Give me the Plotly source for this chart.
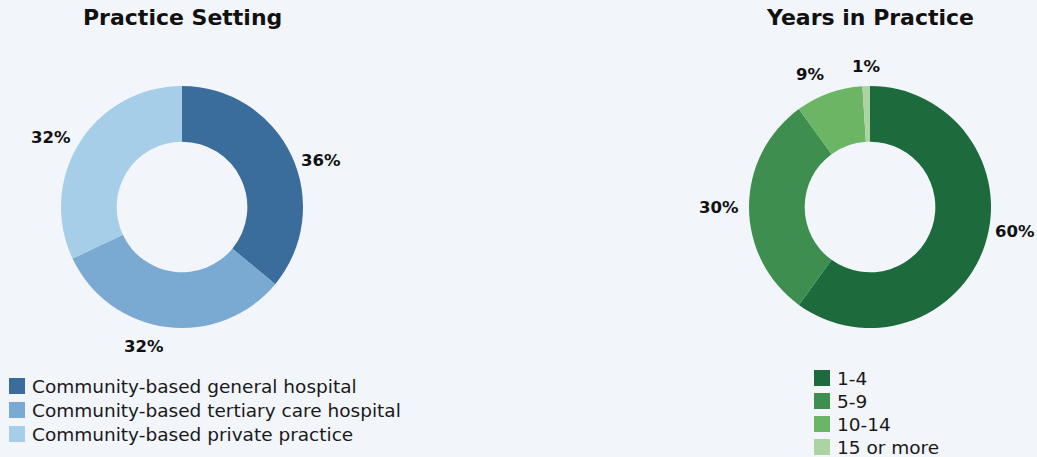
import math
import plotly.graph_objects as go

# Practice setting breakdown (percent of respondents)
setting_labels = [
    "Community-based general hospital",
    "Community-based tertiary care hospital",
    "Community-based private practice",
]
setting_values = [36, 32, 32]
setting_colors = ["#3a6d9b", "#7aa9d1", "#a6cee8"]

# Years in practice breakdown (percent of respondents)
years_labels = ["1-4", "5-9", "10-14", "15 or more"]
years_values = [60, 30, 9, 1]
years_colors = ["#1d6a3c", "#3d8e4f", "#6cb565", "#acd4a1"]

W, H = 1037, 457
BG = "#f2f5f9"
FONT = "DejaVu Sans"
RADIUS = 121
HOLE = 0.54
LABEL_GAP = 8


def px_x(v):
    return v / W


def px_y(v):
    return 1 - v / H


annotations = []
shapes = []


def donut(labels, values, colors, cx, cy, r):
    return go.Pie(
        labels=labels,
        values=values,
        marker=dict(colors=colors, line=dict(width=0)),
        hole=HOLE,
        sort=False,
        direction="clockwise",
        rotation=0,
        textinfo="none",
        showlegend=False,
        domain=dict(x=[px_x(cx - r), px_x(cx + r)], y=[px_y(cy + r), px_y(cy - r)]),
    )


def percent_labels(values, cx, cy, r):
    # Percentages sit just outside each slice at its mid-angle; labels on the
    # sides are drawn in toward the horizontal centre line.
    total = sum(values)
    start = 0.0
    for v in values:
        mid = (start + v / 2) / total * 2 * math.pi
        start += v
        ux, uy = math.sin(mid), -math.cos(mid)
        rl = r + LABEL_GAP
        squeeze = min(1.0, 2 * abs(uy))
        xanchor = "left" if ux > 0.1 else ("right" if ux < -0.1 else "center")
        yanchor = "middle" if abs(uy) < 0.6 else ("top" if uy > 0 else "bottom")
        annotations.append(dict(
            text=f"<b>{round(100 * v / total)}%</b>",
            xref="paper", yref="paper", showarrow=False,
            x=px_x(cx + rl * ux), y=px_y(cy + rl * uy * squeeze),
            xanchor=xanchor, yanchor=yanchor,
            font=dict(family=FONT, size=16.5, color="#111111"),
        ))


def add_legend(labels, colors, x0, y0, step):
    for i, (lab, col) in enumerate(zip(labels, colors)):
        yc = y0 + i * step
        shapes.append(dict(
            type="rect", xref="paper", yref="paper",
            x0=px_x(x0), x1=px_x(x0 + 16), y0=px_y(yc + 8), y1=px_y(yc - 8),
            fillcolor=col, line=dict(width=0),
        ))
        annotations.append(dict(
            text=lab, xref="paper", yref="paper", showarrow=False,
            x=px_x(x0 + 21), y=px_y(yc), xanchor="left", yanchor="middle",
            font=dict(family=FONT, size=18.5, color="#1a1a1a"),
        ))


fig = go.Figure()
charts = [
    ("Practice Setting", setting_labels, setting_values, setting_colors, 182),
    ("Years in Practice", years_labels, years_values, years_colors, 870),
]
for title, labels, values, colors, cx in charts:
    fig.add_trace(donut(labels, values, colors, cx, 207, RADIUS))
    percent_labels(values, cx, 207, RADIUS)
    annotations.append(dict(
        text=f"<b>{title}</b>", xref="paper", yref="paper", showarrow=False,
        x=px_x(cx), y=px_y(18), xanchor="center", yanchor="middle",
        font=dict(family=FONT, size=22, color="#111111"),
    ))

add_legend(setting_labels, setting_colors, 9, 386, 24)
add_legend(years_labels, years_colors, 814, 378, 23)

fig.update_layout(
    width=W, height=H,
    margin=dict(l=0, r=0, t=0, b=0),
    paper_bgcolor=BG, plot_bgcolor=BG,
    annotations=annotations,
    shapes=shapes,
)

fig.write_html("out.html")
